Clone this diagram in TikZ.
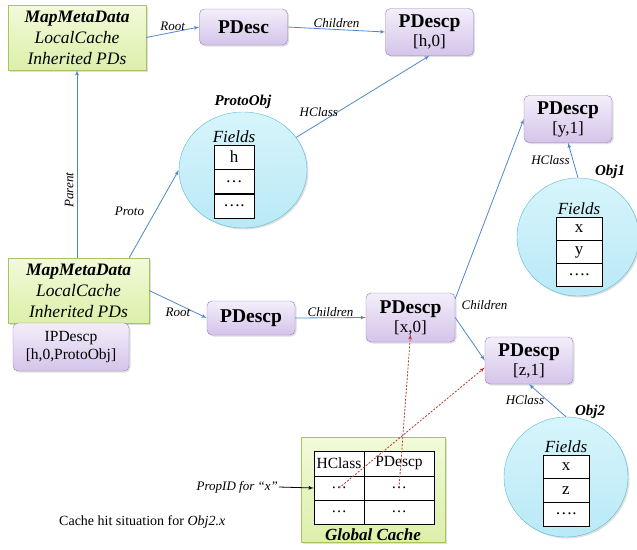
\documentclass[tikz,border=0pt]{standalone}
\usepackage{fontspec}
\setmainfont{Liberation Serif}
\usetikzlibrary{arrows,shadows,shapes.geometric,positioning}
\definecolor{linkblue}{RGB}{79,135,200}
\definecolor{hitred}{RGB}{185,55,45}
\definecolor{pdline}{RGB}{150,125,190}
\definecolor{pdtop}{RGB}{243,238,250}
\definecolor{pdbot}{RGB}{212,196,234}
\definecolor{greenline}{RGB}{165,198,95}
\definecolor{greentop}{RGB}{242,250,218}
\definecolor{greenbot}{RGB}{220,239,170}
\definecolor{objline}{RGB}{90,185,210}
\definecolor{objtop}{RGB}{215,245,251}
\definecolor{objbot}{RGB}{185,233,247}
\newcommand{\pdsub}{\fontsize{17}{19}\selectfont\mdseries}
\begin{document}
\begin{tikzpicture}
[x=1pt,y=-1pt,>=latex',
shade/.style={drop shadow={opacity=0.25,shadow xshift=1.5pt,shadow yshift=-1.5pt}},
pd/.style={draw=pdline, rounded corners=5pt, top color=pdtop, bottom color=pdbot, shade,
  minimum width=88, minimum height=47, align=center, inner sep=1pt,
  font=\fontsize{19.5}{19}\selectfont\bfseries},
mmd/.style={draw=greenline, top color=greentop, bottom color=greenbot, shade,
  minimum width=138, minimum height=65, align=center, inner sep=1pt,
  font=\fontsize{17.5}{21}\selectfont\itshape},
obj/.style={ellipse, draw=objline, top color=objtop, bottom color=objbot, shade},
cell/.style={draw, fill=white, minimum width=40, minimum height=24.3, inner sep=0pt,
  font=\fontsize{17}{17}\selectfont},
gcell/.style={draw, fill=white, minimum height=24, inner sep=0pt,
  font=\fontsize{15.5}{15.5}\selectfont},
fieldlbl/.style={font=\fontsize{17}{17}\selectfont\itshape, inner sep=1pt},
objlbl/.style={font=\fontsize{15}{15}\selectfont\bfseries\itshape, inner sep=1pt},
lbl/.style={font=\fontsize{13}{13}\selectfont\itshape, inner sep=1pt},
link/.style={->, draw=linkblue, line width=0.8pt},
hit/.style={->, draw=hitred, dash pattern=on 2pt off 1.5pt, line width=0.8pt}]
\useasboundingbox (0,0) rectangle (637,549);

% top row
\node[mmd] (mmdtop) at (77,37.5) {\textbf{MapMetaData}\\LocalCache\\Inherited PDs};
\node[pd, minimum height=36] (pdesc) at (243.5,27) {PDesc};
\node[pd] (ph) at (429.5,32) {PDescp\\\pdsub [h,0]};

% proto object
\node[obj, minimum width=128, minimum height=116] (proto) at (243,170) {};
\node[cell] (pf1) at (234,157) {h};
\node[cell] (pf2) at (234,181.5) {\ldots};
\node[cell] (pf3) at (234,206) {\ldots.};
\node[fieldlbl, above=1pt of pf1] (pfl) {Fields};
\node[objlbl] (protolbl) at (243,102) {ProtoObj};

% obj1
\node[pd] (py) at (568,119) {PDescp\\\pdsub [y,1]};
\node[obj, minimum width=122, minimum height=118] (obj1) at (578,237) {};
\node[cell, minimum width=46, minimum height=23.3] (of1) at (579,229) {x};
\node[cell, minimum width=46, minimum height=23.3] (of2) at (579,252) {y};
\node[cell, minimum width=46, minimum height=23.3] (of3) at (579,275) {\ldots.};
\node[fieldlbl, above=1pt of of1] (ofl) {Fields};
\node[objlbl] (obj1lbl) at (610,172) {Obj1};

% bottom left
\node[mmd, minimum width=141] (mmdbot) at (78.5,290.5) {\textbf{MapMetaData}\\LocalCache\\Inherited PDs};
\node[pd, minimum width=116, minimum height=48, font=\fontsize{15.5}{18}\selectfont] (ipd) at (71,347) {IPDescp\\{}[h,0,ProtoObj]};

% middle row
\node[pd, minimum height=34] (pmid) at (251,318) {PDescp};
\node[pd, minimum width=89, minimum height=49] (px) at (410.5,317.5) {PDescp\\\pdsub [x,0]};
\node[pd] (pz) at (529,360.5) {PDescp\\\pdsub [z,1]};

% obj2
\node[obj, minimum width=124, minimum height=120] (obj2) at (566,477) {};
\node[cell, minimum width=46, minimum height=23.7] (qf1) at (566,467) {x};
\node[cell, minimum width=46, minimum height=23.7] (qf2) at (566,490.5) {z};
\node[cell, minimum width=46, minimum height=23.7] (qf3) at (566,514) {\ldots.};
\node[fieldlbl, above=1pt of qf1] (qfl) {Fields};
\node[objlbl] (obj2lbl) at (590,412) {Obj2};

% global cache
\node[draw=greenline, top color=greentop, bottom color=greenbot, shade,
  minimum width=144, minimum height=105] (gcache) at (373,489.5) {};
\node[gcell, minimum width=50, minimum height=25] (gh) at (339,463.5) {HClass};
\node[gcell, minimum width=70, minimum height=25] (gp) at (399,463.5) {PDescp};
\node[gcell, minimum width=50] (g1h) at (339,488) {\ldots};
\node[gcell, minimum width=70] (g1p) at (399,488) {\ldots};
\node[gcell, minimum width=50] (g2h) at (339,512) {\ldots};
\node[gcell, minimum width=70] (g2p) at (399,512) {\ldots};
\node[font=\fontsize{17}{17}\selectfont\bfseries\itshape, inner sep=1pt] (gclbl) at (373,535) {Global Cache};

\node[lbl, anchor=east] (propid) at (279,487) {PropID for ``x''};
\node[anchor=west, font=\fontsize{14}{14}\selectfont, inner sep=0pt] (caption) at (59,522) {Cache hit situation for \textit{Obj2.x}};

% links
\draw[link] (mmdtop.east) -- node[lbl, above] {Root} (pdesc.west);
\draw[link] (pdesc.east) -- node[lbl, above] {Children} (ph.west);
\draw[link] (proto) -- node[lbl, pos=0.17, above=5pt] {HClass} (ph.south);
\draw[link] (mmdbot.north -| mmdtop.south) -- node[lbl, pos=0.36, sloped, above=2pt] {Parent} (mmdtop.south);
\draw[link] ([xshift=-20pt]mmdbot.north east) -- node[lbl, pos=0.53, left=10pt] {Proto} (proto.west);
\draw[link] (mmdbot.east) -- node[lbl, below=2pt] {Root} (pmid.west);
\draw[link] (pmid.east) -- node[lbl, above] {Children} (px.west);
\draw[link] ([yshift=-6pt]px.north east) -- node[lbl, at start, anchor=north west, xshift=5pt] {Children} (py.west);
\draw[link] (px.east) -- (pz.west);
\draw[link] (obj1.north) -- node[lbl, left=2pt] {HClass} (py.south);
\draw[link] (obj2.north) -- node[lbl, left=2pt] {HClass} (pz.south);

% cache hit
\draw[->, line width=0.8pt] (propid.east) -- (g1h.west);
\draw[hit] (g1h.center) -- ([yshift=-7pt]pz.west);
\draw[hit] (g1p.center) -- ([yshift=8pt]px.south);
\end{tikzpicture}
\end{document}
